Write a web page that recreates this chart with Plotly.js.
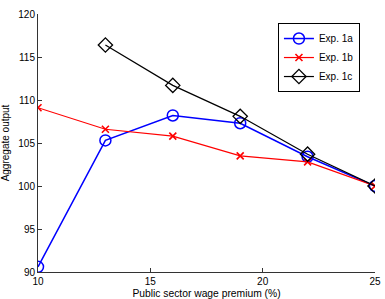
<!DOCTYPE html>
<html>
<head>
<meta charset="utf-8">
<script src="https://cdn.plot.ly/plotly-3.0.1.min.js"></script>
<style>
  html, body { margin: 0; padding: 0; background: #fff; }
  #chart { width: 385px; height: 299px; }
</style>
</head>
<body>
<div id="chart"></div>
<script>
// Public sector wage premium (%)
const premium = [10, 13, 16, 19, 22, 25];
const premiumC = [13, 16, 19, 22, 25];

// Aggregate output per experiment
const exp1a = [90.6, 105.3, 108.2, 107.3, 103.4, 100.0];
const exp1b = [109.1, 106.6, 105.8, 103.5, 102.8, 100.0];
const exp1c = [116.4, 111.7, 108.1, 103.7, 100.0];

const seriesNames = ['Exp. 1a', 'Exp. 1b', 'Exp. 1c'];
const xTicks = [10, 15, 20, 25];
const yTicks = [90, 95, 100, 105, 110, 115, 120];

const font = { family: 'Liberation Sans, Arial, sans-serif', size: 10, color: '#000' };

const traces = [
  {
    x: premium, y: exp1a, name: seriesNames[0], type: 'scatter', mode: 'lines+markers',
    line: { color: '#0000ff', width: 1.5 },
    marker: { symbol: 'circle-open', size: 11, color: '#0000ff', line: { width: 1.5 } }
  },
  {
    x: premium, y: exp1b, name: seriesNames[1], type: 'scatter', mode: 'lines+markers',
    line: { color: '#ff0000', width: 1.2 },
    marker: { symbol: 'x-thin-open', size: 7, color: '#ff0000', line: { width: 1.6, color: '#ff0000' } }
  },
  {
    x: premiumC, y: exp1c, name: seriesNames[2], type: 'scatter', mode: 'lines+markers',
    line: { color: '#000000', width: 1.2 },
    marker: { symbol: 'diamond-open', size: 11, color: '#000000', line: { width: 1.3 } }
  }
];

const layout = {
  width: 385, height: 299,
  margin: { l: 38, r: 10, t: 14, b: 27 },
  paper_bgcolor: '#fff', plot_bgcolor: '#fff',
  font: font,
  showlegend: true,
  legend: {
    x: 0.712, y: 0.965, xanchor: 'left', yanchor: 'top',
    bordercolor: '#000', borderwidth: 1, bgcolor: '#fff',
    font: font, tracegroupgap: 0, itemwidth: 30
  },
  xaxis: {
    range: [10, 25], tickvals: xTicks, ticktext: xTicks.map(String),
    ticks: 'inside', ticklen: 4, tickcolor: '#333',
    showline: true, linecolor: '#333', linewidth: 1, mirror: false,
    showgrid: false, zeroline: false,
    title: { text: 'Public sector wage premium (%)', font: { family: font.family, size: 10.3, color: '#000' }, standoff: 4 }
  },
  yaxis: {
    range: [90, 120], tickvals: yTicks, ticktext: yTicks.map(String),
    ticks: 'inside', ticklen: 4, tickcolor: '#333',
    showline: true, linecolor: '#333', linewidth: 1, mirror: false,
    showgrid: false, zeroline: false,
    title: { text: 'Aggregate output', font: font, standoff: 8 }
  }
};

Plotly.newPlot('chart', traces, layout, { displayModeBar: false, staticPlot: true });
</script>
</body>
</html>
